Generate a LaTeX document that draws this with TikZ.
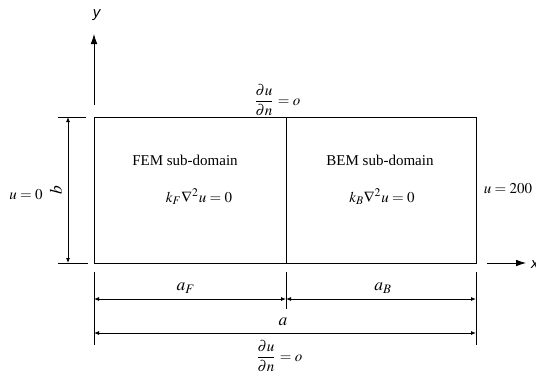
\documentclass[tikz,border=0pt]{standalone}
\usepackage{amsmath}
\usepackage{mathptmx}
\usepackage{fontspec}
\setmainfont{Liberation Serif}
\setsansfont{Liberation Sans}
\usepackage{tikz}
\usetikzlibrary{arrows.meta,positioning,calc}

\begin{document}
\begin{tikzpicture}[x=0.6pt,y=-0.6pt,line width=0.5pt,
  font=\fontsize{9}{11}\selectfont,
  dim/.style={{Latex[length=3pt,width=2.4pt]}-{Latex[length=3pt,width=2.4pt]}},
  axis/.style={-{Latex[length=6pt,width=4pt]}},
  lbl/.style={inner sep=1pt},
  dimlbl/.style={inner sep=1pt,font=\fontsize{10.5}{12}\selectfont}]
  \useasboundingbox (0,0) rectangle (536,376);
  % domain and interface
  \coordinate (nw) at (94,117); \coordinate (ne) at (476,117);
  \coordinate (sw) at (94,263); \coordinate (se) at (476,263);
  \coordinate (mn) at (286,117); \coordinate (ms) at (286,263);
  \draw (sw) rectangle (ne);
  \draw (mn) -- (ms);
  \node[lbl] (fem) at (185,160) {FEM sub-domain};
  \node[lbl] (femeq) at (199,197) {$k_F\nabla^2u=0$};
  \node[lbl] (bem) at (380,160) {BEM sub-domain};
  \node[lbl] (bemeq) at (382,197) {$k_B\nabla^2u=0$};
  % axes
  \coordinate (yfoot) at (94,105); \coordinate (ytip) at (94,34);
  \draw[axis] (yfoot) -- (ytip);
  \node[lbl] (ylab) at (97,15) {\textsf{\textit{y}}};
  \coordinate (xfoot) at (487,263); \coordinate (xtip) at (526,263);
  \draw[axis] (xfoot) -- (xtip);
  \node[lbl] (xlab) at (535,265) {\textsf{\textit{x}}};
  % boundary conditions
  \node[lbl] (bctop) at (277,100) {$\dfrac{\partial u}{\partial n}=o$};
  \node[lbl] (bcbot) at (279,356) {$\dfrac{\partial u}{\partial n}=o$};
  \node[lbl] (bcleft) at (26,195) {$u=0$};
  \node[lbl] (bcright) at (508,189) {$u=200$};
  % height b
  \coordinate (btop0) at (58,117); \coordinate (btop1) at (86,117);
  \coordinate (bbot0) at (58,263); \coordinate (bbot1) at (88,263);
  \draw (btop0) -- (btop1);
  \draw (bbot0) -- (bbot1);
  \coordinate (bt) at (68,117); \coordinate (bb) at (68,263);
  \draw[dim] (bt) -- (bb);
  \node[dimlbl,rotate=90] (blab) at (56,190) {$b$};
  % widths a_F, a_B, a
  \coordinate (e1a) at (94,272); \coordinate (e1b) at (94,345);
  \coordinate (e2a) at (286,272); \coordinate (e2b) at (286,309);
  \coordinate (e3a) at (476,272); \coordinate (e3b) at (476,345);
  \draw (e1a) -- (e1b);
  \draw (e2a) -- (e2b);
  \draw (e3a) -- (e3b);
  \coordinate (af0) at (94,299); \coordinate (af1) at (286,299);
  \coordinate (ab1) at (476,299);
  \coordinate (a0) at (94,333); \coordinate (a1) at (476,333);
  \draw[dim] (af0) -- (af1);
  \draw[dim] (af1) -- (ab1);
  \draw[dim] (a0) -- (a1);
  \node[dimlbl] (aflab) at (186,288) {$a_F$};
  \node[dimlbl] (ablab) at (383,288) {$a_B$};
  \node[dimlbl] (alab) at (283,322) {$a$};
\end{tikzpicture}
\end{document}
